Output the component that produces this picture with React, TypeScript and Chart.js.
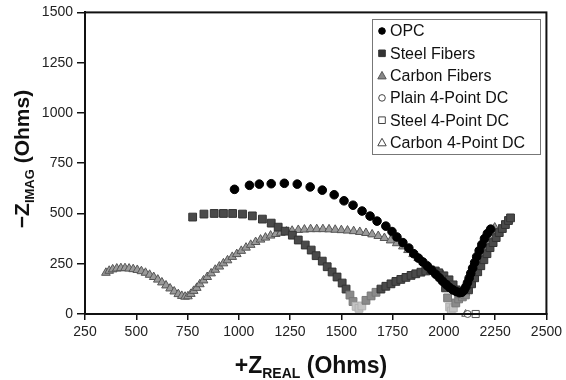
import React, { useEffect, useRef } from "react";
import { Chart, registerables } from "chart.js";

Chart.register(...registerables);

const FONT = "'Liberation Sans', Arial, Helvetica, sans-serif";

const xTickMin = 250;
const xTickMax = 2500;
const xTickStep = 250;
const yTickMin = 0;
const yTickMax = 1500;
const yTickStep = 250;

const opcPoints: [number, number][] = [
  [979, 620], [1052, 640], [1100, 646], [1158, 648], [1222, 650], [1285, 646],
  [1348, 632], [1407, 616], [1465, 593], [1513, 563], [1557, 541], [1601, 512],
  [1640, 487], [1674, 462], [1717, 437], [1747, 410], [1771, 383], [1800, 355],
  [1829, 328], [1853, 300], [1876, 278], [1898, 258], [1920, 238], [1940, 218],
  [1960, 198], [1978, 180], [1995, 162], [2012, 146], [2028, 132], [2044, 120],
  [2060, 112], [2075, 106], [2088, 108], [2098, 118], [2107, 135], [2115, 155],
  [2123, 178], [2131, 202], [2140, 228], [2150, 256], [2160, 285], [2172, 315],
  [2185, 345], [2198, 375], [2212, 400], [2228, 422],
];

const steelPoints: [number, number][] = [
  [775, 482], [830, 497], [880, 500], [925, 500], [970, 500], [1018, 497],
  [1066, 488], [1115, 472], [1158, 452], [1192, 432], [1226, 412], [1261, 392],
  [1290, 368], [1324, 343], [1353, 318], [1377, 290], [1407, 263], [1431, 235],
  [1455, 209], [1479, 184], [1504, 154], [1523, 124], [1542, 94], [1557, 62],
  [1572, 38], [1586, 28], [1600, 40], [1620, 68], [1645, 90], [1669, 108],
  [1693, 124], [1717, 138], [1742, 150], [1766, 162], [1790, 172], [1815, 182],
  [1840, 192], [1863, 200], [1888, 208], [1912, 214], [1936, 218], [1958, 214],
  [1978, 198], [1995, 170], [2008, 130], [2018, 80], [2028, 35], [2036, 15],
  [2046, 30], [2058, 55], [2072, 75], [2090, 85], [2105, 95], [2120, 120],
  [2135, 150], [2150, 180], [2165, 210], [2180, 240], [2195, 270], [2210, 300],
  [2225, 330], [2240, 355], [2255, 380], [2270, 405], [2285, 425], [2300, 445],
  [2315, 465], [2325, 478],
  [1975, 205], [2000, 190], [2025, 170], [2045, 145], [2060, 120], [2075, 100],
];

const carbonPoints: [number, number][] = [
  [352, 205], [368, 215], [385, 222], [405, 226], [425, 228], [445, 228],
  [465, 226], [485, 223], [505, 219], [525, 213], [545, 205], [565, 195],
  [585, 184], [605, 171], [625, 157], [645, 142], [665, 127], [685, 112],
  [705, 99], [722, 90], [738, 86], [752, 88], [766, 100], [780, 115],
  [795, 130], [810, 148], [828, 167], [846, 184], [865, 202], [885, 220],
  [905, 236], [925, 252], [945, 267], [968, 284], [990, 298], [1012, 314],
  [1035, 330], [1058, 344], [1082, 358], [1106, 370], [1130, 380], [1155, 390],
  [1180, 398], [1205, 404], [1232, 410], [1260, 414], [1290, 418], [1320, 420],
  [1350, 422], [1380, 422], [1410, 422], [1440, 421], [1470, 419], [1500, 417],
  [1530, 415], [1560, 412], [1590, 408], [1620, 403], [1650, 396], [1680, 388],
  [1710, 378], [1740, 366], [1770, 352], [1800, 336], [1825, 318], [1850, 298],
  [1875, 278], [1900, 258], [1925, 237], [1950, 215], [1975, 192], [2000, 170],
  [2020, 150], [2040, 130], [2058, 114], [2075, 102], [2092, 96], [2105, 104],
  [2118, 125], [2130, 150], [2142, 178], [2155, 208], [2168, 240], [2182, 272],
  [2196, 305], [2210, 340], [2222, 372], [2235, 405], [2248, 430],
];

const plainDcPoints: [number, number][] = [[2116, 0]];
const steelDcPoints: [number, number][] = [[2155, 0]];
const carbonDcPoints: [number, number][] = [[2106, 0]];

const seriesLabels = [
  "OPC",
  "Steel Fibers",
  "Carbon Fibers",
  "Plain 4-Point DC",
  "Steel 4-Point DC",
  "Carbon 4-Point DC",
];

const toXY = (pts: [number, number][]) => pts.map(([x, y]) => ({ x, y }));

const steelFill = (ctx: any) => {
  const v = ctx.raw ? ctx.raw.y : 999;
  if (v < 50) return "#c4c4c4";
  if (v < 110) return "#8a8a8a";
  return "#4a4a4a";
};
const steelBorder = (ctx: any) => {
  const v = ctx.raw ? ctx.raw.y : 999;
  if (v < 50) return "#b0b0b0";
  if (v < 110) return "#777";
  return "#333";
};

type Part = { text: string; size: number; dy: number };

function drawParts(ctx: CanvasRenderingContext2D, parts: Part[], cx: number, baseY: number) {
  let total = 0;
  const widths = parts.map((p) => {
    ctx.font = `bold ${p.size}px ${FONT}`;
    const w = ctx.measureText(p.text).width;
    total += w;
    return w;
  });
  let x = cx - total / 2;
  ctx.textAlign = "left";
  ctx.textBaseline = "alphabetic";
  parts.forEach((p, i) => {
    ctx.font = `bold ${p.size}px ${FONT}`;
    ctx.fillText(p.text, x, baseY + p.dy);
    x += widths[i];
  });
}

const framePlugin = {
  id: "frameAndTitles",
  afterDraw(chart: any) {
    const { ctx, chartArea } = chart;
    ctx.save();
    ctx.strokeStyle = "#111";
    ctx.lineWidth = 2;
    ctx.strokeRect(chartArea.left, chartArea.top, chartArea.right - chartArea.left, chartArea.bottom - chartArea.top);
    ctx.fillStyle = "#111";
    drawParts(
      ctx,
      [
        { text: "+Z", size: 23, dy: 0 },
        { text: "REAL", size: 14, dy: 5 },
        { text: " (Ohms)", size: 23, dy: 0 },
      ],
      311,
      373
    );
    ctx.save();
    ctx.translate(29, 159);
    ctx.rotate(-Math.PI / 2);
    drawParts(
      ctx,
      [
        { text: "\u2212Z", size: 21, dy: 0 },
        { text: "IMAG", size: 13, dy: 5 },
        { text: " (Ohms)", size: 21, dy: 0 },
      ],
      0,
      0
    );
    ctx.restore();

    const lx = 372, ly = 19, lw = 168, lh = 135;
    ctx.fillStyle = "#fff";
    ctx.fillRect(lx, ly, lw, lh);
    ctx.strokeStyle = "#777";
    ctx.lineWidth = 1;
    ctx.strokeRect(lx + 0.5, ly + 0.5, lw, lh);
    const ds = chart.data.datasets;
    ds.forEach((d: any, i: number) => {
      const y = ly + 12 + i * 22.3;
      const mx = lx + 10;
      ctx.beginPath();
      ctx.lineWidth = 1;
      const filled = i < 3;
      const fill = i === 0 ? "#000" : i === 1 ? "#333" : "#888";
      ctx.fillStyle = filled ? fill : "#fff";
      ctx.strokeStyle = filled ? (i === 2 ? "#555" : fill) : "#444";
      const style = d.pointStyle;
      if (style === "circle") {
        ctx.arc(mx, y, 3.3, 0, Math.PI * 2);
      } else if (style === "rect") {
        ctx.rect(mx - 3.3, y - 3.3, 6.6, 6.6);
      } else {
        ctx.moveTo(mx, y - 4.2);
        ctx.lineTo(mx + 4.2, y + 3.3);
        ctx.lineTo(mx - 4.2, y + 3.3);
        ctx.closePath();
      }
      ctx.fill();
      ctx.stroke();
      ctx.fillStyle = "#111";
      ctx.font = `16px ${FONT}`;
      ctx.textAlign = "left";
      ctx.textBaseline = "middle";
      ctx.fillText(d.label, lx + 18, y + 1);
    });
    ctx.restore();
  },
};

export default function App() {
  const canvasRef = useRef<HTMLCanvasElement | null>(null);

  useEffect(() => {
    if (!canvasRef.current) return;
    const chart = new Chart(canvasRef.current, {
      type: "scatter",
      data: {
        datasets: [
          {
            label: seriesLabels[0],
            data: toXY(opcPoints),
            pointStyle: "circle",
            pointRadius: 4.3,
            backgroundColor: "#000",
            borderColor: "#000",
            borderWidth: 1,
          },
          {
            label: seriesLabels[1],
            data: toXY(steelPoints),
            pointStyle: "rect",
            pointRadius: 5.5,
            backgroundColor: steelFill,
            borderColor: steelBorder,
            borderWidth: 1,
          },
          {
            label: seriesLabels[2],
            data: toXY(carbonPoints),
            pointStyle: "triangle",
            pointRadius: 5,
            backgroundColor: "#9a9a9a",
            borderColor: "#555",
            borderWidth: 1,
          },
          {
            label: seriesLabels[3],
            data: toXY(plainDcPoints),
            pointStyle: "circle",
            pointRadius: 3.5,
            backgroundColor: "#fff",
            borderColor: "#555",
            borderWidth: 1,
            clip: false,
          },
          {
            label: seriesLabels[4],
            data: toXY(steelDcPoints),
            pointStyle: "rect",
            pointRadius: 5,
            backgroundColor: "#fff",
            borderColor: "#555",
            borderWidth: 1,
            clip: false,
          },
          {
            label: seriesLabels[5],
            data: toXY(carbonDcPoints),
            pointStyle: "triangle",
            pointRadius: 4.5,
            backgroundColor: "#fff",
            borderColor: "#555",
            borderWidth: 1,
            clip: false,
          },
        ] as any,
      },
      options: {
        animation: false,
        responsive: false,
        maintainAspectRatio: false,
        layout: { padding: { left: 0, top: 11, right: 17, bottom: 0 } },
        plugins: {
          legend: { display: false },
          tooltip: { enabled: false },
          title: { display: false },
        },
        scales: {
          x: {
            type: "linear",
            min: xTickMin,
            max: xTickMax,
            afterFit: (s: any) => {
              s.height = 66;
            },
            ticks: {
              stepSize: xTickStep,
              color: "#222",
              font: { family: FONT, size: 14 },
              padding: 4,
              maxRotation: 0,
              callback: (v: any) => String(v),
            },
            grid: {
              display: true,
              drawOnChartArea: false,
              drawTicks: true,
              tickLength: 6,
              color: "#111",
              lineWidth: 1.5,
            },
            border: { display: true, color: "#111", width: 2 },
          },
          y: {
            type: "linear",
            min: yTickMin,
            max: yTickMax,
            afterFit: (s: any) => {
              s.width = 85;
            },
            ticks: {
              stepSize: yTickStep,
              color: "#222",
              font: { family: FONT, size: 14 },
              padding: 4,
              callback: (v: any) => String(v),
            },
            grid: {
              display: true,
              drawOnChartArea: false,
              drawTicks: true,
              tickLength: 8,
              color: "#111",
              lineWidth: 1.5,
            },
            border: { display: true, color: "#111", width: 2 },
          },
        },
      },
      plugins: [framePlugin],
    } as any);
    return () => chart.destroy();
  }, []);

  return (
    <div style={{ position: "fixed", left: 0, top: 0, width: 566, height: 380, background: "#fff" }}>
      <canvas ref={canvasRef} width={566} height={380} style={{ width: 566, height: 380 }} />
    </div>
  );
}
